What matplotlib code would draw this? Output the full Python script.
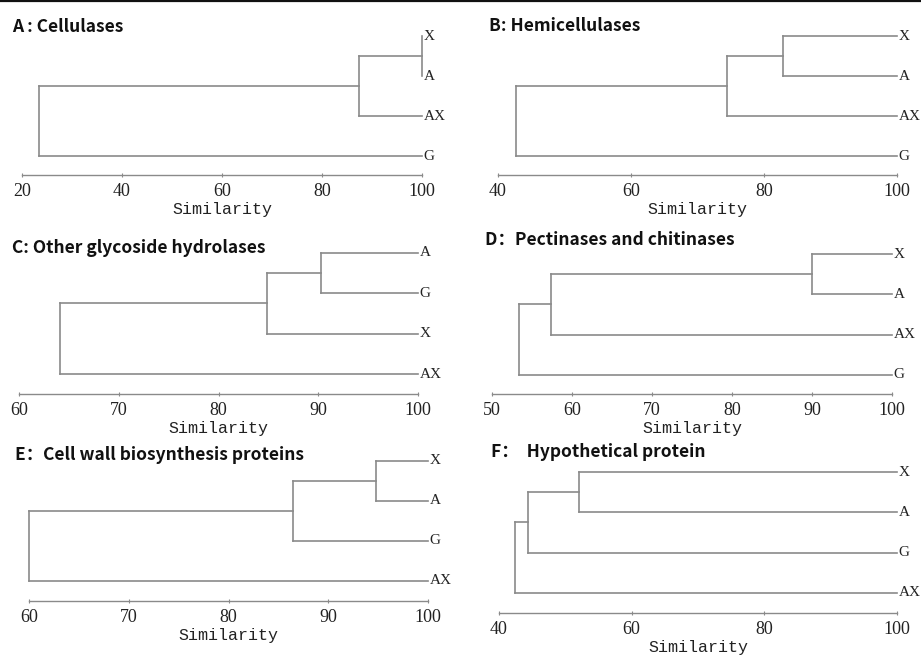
import matplotlib
matplotlib.use("Agg")
import matplotlib.pyplot as plt
from matplotlib.lines import Line2D
import numpy as np

# Dendrograms of similarity between samples, one per enzyme group
titles = ["A : Cellulases", "B: Hemicellulases", "C: Other glycoside hydrolases",
          "D\uff1aPectinases and chitinases", "E\uff1aCell wall biosynthesis proteins",
          "F\uff1a  Hypothetical protein"]

# leaf order, top to bottom
leaves_A = ["X", "A", "AX", "G"]
leaves_B = ["X", "A", "AX", "G"]
leaves_C = ["A", "G", "X", "AX"]
leaves_D = ["X", "A", "AX", "G"]
leaves_E = ["X", "A", "G", "AX"]
leaves_F = ["X", "A", "G", "AX"]

# merges: (cluster a, cluster b, similarity) -- new clusters get ids 4, 5, 6
merges_A = [(0, 1, 100.0), (4, 2, 87.4), (5, 3, 23.4)]
merges_B = [(0, 1, 82.8), (4, 2, 74.4), (5, 3, 42.7)]
merges_C = [(0, 1, 90.3), (4, 2, 84.9), (5, 3, 64.1)]
merges_D = [(0, 1, 90.0), (4, 2, 57.4), (5, 3, 53.4)]
merges_E = [(0, 1, 94.8), (4, 2, 86.5), (5, 3, 60.0)]
merges_F = [(0, 1, 52.0), (4, 2, 44.4), (5, 3, 42.4)]

ticks_A = [20, 40, 60, 80, 100]
ticks_B = [40, 60, 80, 100]
ticks_C = [60, 70, 80, 90, 100]
ticks_D = [50, 60, 70, 80, 90, 100]
ticks_E = [60, 70, 80, 90, 100]
ticks_F = [40, 60, 80, 100]

panels = [
    (leaves_A, merges_A, ticks_A),
    (leaves_B, merges_B, ticks_B),
    (leaves_C, merges_C, ticks_C),
    (leaves_D, merges_D, ticks_D),
    (leaves_E, merges_E, ticks_E),
    (leaves_F, merges_F, ticks_F),
]

# layout in pixels: x of axis start, x of 100, top leaf y, bottom leaf y, axis y
boxes = [
    (22, 422, 36, 156, 175),
    (498, 897, 36, 156, 175),
    (19, 418, 253, 374, 394),
    (492, 892, 254, 375, 394),
    (29, 428, 461, 581, 601),
    (499, 897, 472, 593, 613),
]
title_pos = [(12, 27), (489, 26), (12, 248), (485, 240), (15, 455), (491, 452)]

W, H = 921, 656
line_col = "#8a8a8a"
serif = "Liberation Serif"
mono = "Liberation Mono"

fig = plt.figure(figsize=(W / 100, H / 100), dpi=100)
fig.add_artist(Line2D([0, 1], [1 - 1 / H, 1 - 1 / H], color="#111111", lw=1.6,
                      transform=fig.transFigure))

for (leaves, merges, ticks), (x0, x1, yt, yb, ya), title, (tx, ty) in zip(
        panels, boxes, titles, title_pos):
    s = (yb - yt) / 3
    top = yt - 0.3 * s
    ax = fig.add_axes([x0 / W, 1 - ya / H, (x1 - x0) / W, (ya - top) / H])

    pos = {i: (i, 100.0) for i in range(len(leaves))}
    nid = len(leaves)
    for a, b, h in merges:
        ya_, xa = pos[a]
        yb_, xb = pos[b]
        ax.plot([xa, h], [ya_, ya_], color=line_col, lw=1.2, clip_on=False)
        ax.plot([xb, h], [yb_, yb_], color=line_col, lw=1.2, clip_on=False)
        ax.plot([h, h], [ya_, yb_], color=line_col, lw=1.2, clip_on=False)
        pos[nid] = ((ya_ + yb_) / 2, h)
        nid += 1

    for i, name in enumerate(leaves):
        ax.annotate(name, (100, i), xytext=(1, 0), textcoords="offset points",
                    va="center", ha="left", fontsize=11, family=serif,
                    color="#222222", annotation_clip=False)

    ax.set_xlim(ticks[0], 100)
    ax.set_ylim(3 + (ya - yb) / s, -0.3)
    for sp in ["left", "top", "right"]:
        ax.spines[sp].set_visible(False)
    ax.spines["bottom"].set_color(line_col)
    ax.spines["bottom"].set_linewidth(1.0)
    ax.set_yticks([])
    ax.set_xticks(ticks)
    ax.tick_params(axis="x", direction="inout", length=3, width=0.8,
                   color=line_col, pad=4, labelsize=13, labelcolor="#222222")
    for lab in ax.get_xticklabels():
        lab.set_family(serif)
    ax.set_xlabel("Similarity", family=mono, fontsize=12,
                  color="#222222", labelpad=2)
    ax.patch.set_visible(False)

    fig.text(tx / W, 1 - ty / H, title, ha="left", va="center", fontsize=12.5,
             family=["Noto Sans CJK SC", "DejaVu Sans"], weight="bold",
             color="#111111")

fig.savefig("out.png", dpi=100)
